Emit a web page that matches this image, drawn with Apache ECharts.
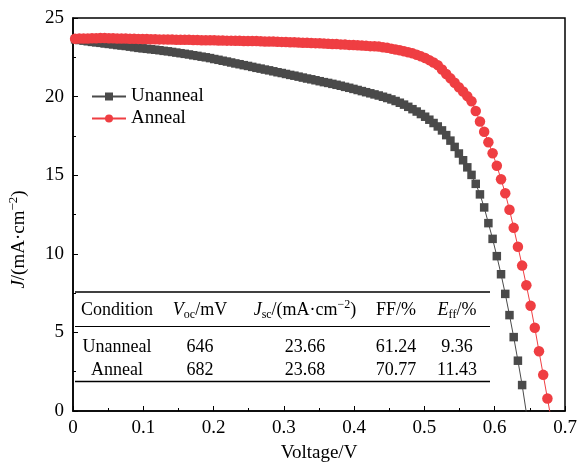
<!DOCTYPE html>
<html>
<head>
<meta charset="utf-8">
<script src="https://cdn.jsdelivr.net/npm/echarts@6/dist/echarts.min.js"></script>
<style>
  html, body { margin: 0; padding: 0; background: #fff; }
  #chart { width: 578px; height: 465px; }
</style>
</head>
<body>
<div id="chart"></div>
<script>
// 电压 (V), 两条曲线共用
var voltage = [
  0.003,0.009,0.015,0.021,0.027,0.033,0.039,0.045,0.051,0.057,
  0.063,0.069,0.075,0.081,0.087,0.093,0.099,0.105,0.111,0.117,
  0.123,0.129,0.135,0.141,0.147,0.153,0.159,0.165,0.171,0.177,
  0.183,0.189,0.195,0.201,0.207,0.213,0.219,0.225,0.231,0.237,
  0.243,0.249,0.255,0.261,0.267,0.273,0.279,0.285,0.291,0.297,
  0.303,0.309,0.315,0.321,0.327,0.333,0.339,0.345,0.351,0.357,
  0.363,0.369,0.375,0.381,0.387,0.393,0.399,0.405,0.411,0.417,
  0.423,0.429,0.435,0.441,0.447,0.453,0.459,0.465,0.471,0.477,
  0.483,0.489,0.495,0.501,0.507,0.513,0.519,0.525,0.531,0.537,
  0.543,0.549,0.555,0.561,0.567,0.573,0.579,0.585,0.591,0.597,
  0.603,0.609,0.615,0.621,0.627,0.633,0.639,0.645,0.651,0.657,
  0.663,0.669,0.675,0.681
];

// 未退火 J (mA/cm2)
var jUnanneal = [
  23.64,23.60,23.56,23.52,23.48,23.45,23.42,23.38,23.35,23.32,
  23.28,23.25,23.22,23.18,23.14,23.10,23.07,23.04,23.01,22.98,
  22.95,22.91,22.88,22.84,22.80,22.76,22.72,22.68,22.63,22.59,
  22.54,22.50,22.45,22.39,22.34,22.28,22.23,22.17,22.11,22.06,
  22.00,21.95,21.89,21.83,21.78,21.72,21.67,21.61,21.55,21.50,
  21.44,21.38,21.33,21.27,21.21,21.15,21.10,21.04,20.98,20.92,
  20.87,20.81,20.75,20.69,20.62,20.56,20.49,20.42,20.35,20.28,
  20.21,20.14,20.07,19.99,19.91,19.82,19.72,19.61,19.49,19.35,
  19.20,19.05,18.89,18.72,18.53,18.32,18.10,17.85,17.55,17.20,
  16.80,16.38,15.95,15.50,15.02,14.45,13.78,12.95,11.95,10.95,
  9.85,8.70,7.45,6.10,4.70,3.20,1.65,-0.10
];

// 退火 J (mA/cm2)
var jAnneal = [
  23.68,23.69,23.70,23.70,23.71,23.71,23.72,23.72,23.71,23.71,
  23.70,23.70,23.69,23.68,23.68,23.67,23.66,23.66,23.65,23.65,
  23.64,23.64,23.63,23.63,23.62,23.62,23.61,23.61,23.60,23.60,
  23.59,23.59,23.58,23.58,23.57,23.57,23.56,23.56,23.55,23.55,
  23.54,23.54,23.53,23.53,23.52,23.51,23.51,23.50,23.49,23.48,
  23.47,23.46,23.45,23.44,23.43,23.42,23.41,23.40,23.39,23.38,
  23.36,23.35,23.34,23.32,23.31,23.29,23.28,23.26,23.25,23.23,
  23.21,23.20,23.18,23.14,23.10,23.05,23.00,22.95,22.89,22.82,
  22.75,22.66,22.56,22.45,22.32,22.17,22.00,21.72,21.44,21.16,
  20.88,20.60,20.32,20.03,19.70,19.08,18.42,17.76,17.10,16.40,
  15.60,14.74,13.85,12.80,11.65,10.45,9.25,8.00,6.70,5.30,
  3.80,2.30,0.80,-0.70
];

var seriesNames = ['Unanneal', 'Anneal'];

// 表格内容
var tableHeader = ['Condition', '{i|V}{sub|oc}/mV', '{i|J}{sub|sc}/(mA·cm{sup|−2})', 'FF/%', '{i|E}{sub|ff}/%'];
var tableRows = [
  ['Unanneal', '646', '23.66', '61.24', '9.36'],
  ['Anneal', '682', '23.68', '70.77', '11.43']
];

var serif = 'Liberation Serif';
var richText = {
  i: { fontFamily: serif, fontStyle: 'italic', fontSize: 18, color: '#000' },
  sub: { fontFamily: serif, fontSize: 12, color: '#000', padding: [9, 0, 0, 0] },
  sup: { fontFamily: serif, fontSize: 12, color: '#000', padding: [0, 0, 11, 0] }
};

function pairs(vs, js) {
  var out = [];
  for (var i = 0; i < js.length; i++) {
    out.push([vs[i], js[i]]);
  }
  return out;
}

// 表格的线和文字
var colX = [117, 200, 305, 396, 457];
var rowY = [310, 347, 370];
var graphics = [
  { type: 'line', shape: { x1: 75, y1: 292, x2: 490, y2: 292 }, style: { stroke: '#000', lineWidth: 1.5 } },
  { type: 'line', shape: { x1: 75, y1: 326.5, x2: 490, y2: 326.5 }, style: { stroke: '#000', lineWidth: 1 } },
  { type: 'line', shape: { x1: 75, y1: 381.5, x2: 490, y2: 381.5 }, style: { stroke: '#000', lineWidth: 1.5 } }
];
tableHeader.forEach(function (t, c) {
  graphics.push({
    type: 'text', x: colX[c], y: rowY[0],
    style: { text: t, rich: richText, fontFamily: serif, fontSize: 18, fill: '#000', align: 'center', verticalAlign: 'middle' }
  });
});
tableRows.forEach(function (row, r) {
  row.forEach(function (t, c) {
    graphics.push({
      type: 'text', x: colX[c], y: rowY[r + 1],
      style: { text: t, fontFamily: serif, fontSize: 18, fill: '#000', align: 'center', verticalAlign: 'middle' }
    });
  });
});

var myChart = echarts.init(document.getElementById('chart'));

var axisFont = { fontFamily: serif, fontSize: 19, color: '#000' };

var option = {
  animation: false,
  backgroundColor: '#fff',
  grid: {
    left: 73, right: 13, top: 18, bottom: 54,
    outerBoundsMode: 'none',
    show: true, borderColor: '#000', borderWidth: 1.5
  },
  legend: {
    orient: 'vertical',
    left: 86, top: 82,
    itemWidth: 34, itemHeight: 10, itemGap: 3,
    data: seriesNames,
    textStyle: { fontFamily: serif, fontSize: 19, color: '#000' }
  },
  xAxis: {
    type: 'value', min: 0, max: 0.7, interval: 0.1,
    name: 'Voltage/V', nameLocation: 'middle', nameGap: 33,
    nameTextStyle: axisFont,
    axisLine: { lineStyle: { color: '#000', width: 1.5 } },
    axisTick: { inside: true, length: 5, lineStyle: { color: '#000', width: 1 } },
    minorTick: { show: true, splitNumber: 2, length: 3, lineStyle: { color: '#000', width: 1 } },
    splitLine: { show: false },
    axisLabel: {
      margin: 8, fontFamily: serif, fontSize: 19, color: '#000',
      formatter: function (v) { return v === 0 ? '0' : v.toFixed(1); }
    }
  },
  yAxis: {
    type: 'value', min: 0, max: 25, interval: 5,
    name: '{i|J}/(mA·cm{sup|−2})', nameLocation: 'middle', nameGap: 42, nameRotate: 90,
    nameTextStyle: {
      fontFamily: serif, fontSize: 19, color: '#000',
      padding: [0, 50, 0, 0],
      rich: {
        i: { fontFamily: serif, fontStyle: 'italic', fontSize: 19, color: '#000' },
        sup: { fontFamily: serif, fontSize: 13, color: '#000', padding: [0, 0, 11, 0] }
      }
    },
    axisLine: { lineStyle: { color: '#000', width: 1.5 } },
    axisTick: { inside: true, length: 5, lineStyle: { color: '#000', width: 1 } },
    minorTick: { show: true, splitNumber: 2, length: 3, lineStyle: { color: '#000', width: 1 } },
    splitLine: { show: false },
    axisLabel: { margin: 9, fontFamily: serif, fontSize: 19, color: '#000' }
  },
  series: [
    {
      name: seriesNames[0], type: 'line',
      data: pairs(voltage, jUnanneal),
      symbol: 'rect', symbolSize: 8.5,
      itemStyle: { color: '#4a4a4a' },
      lineStyle: { color: '#4a4a4a', width: 1 },
      silent: true, clip: true
    },
    {
      name: seriesNames[1], type: 'line',
      data: pairs(voltage, jAnneal),
      symbol: 'circle', symbolSize: 10.5,
      itemStyle: { color: '#ef3e42' },
      lineStyle: { color: '#ef3e42', width: 1 },
      silent: true, clip: true
    }
  ],
  graphic: graphics
};

myChart.setOption(option);
</script>
</body>
</html>
